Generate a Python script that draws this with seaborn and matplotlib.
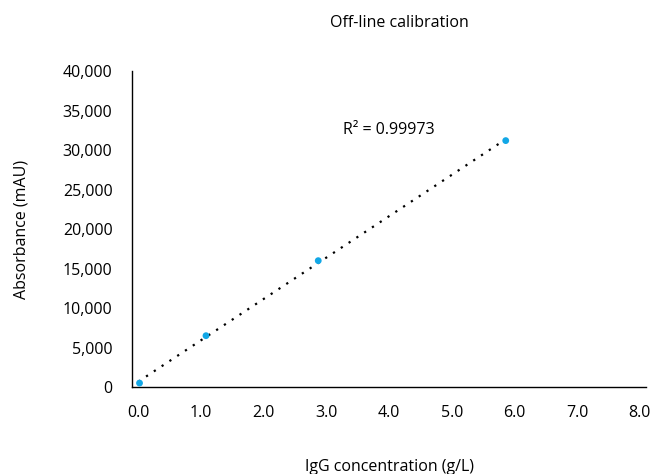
import numpy as np
import pandas as pd
import matplotlib
matplotlib.use("Agg")
import matplotlib.pyplot as plt
import seaborn as sns
from matplotlib.ticker import FuncFormatter

conc = [0.02, 1.08, 2.87, 5.86]
absorb = [500, 6500, 16000, 31200]
x_ticks = [0, 1, 2, 3, 4, 5, 6, 7, 8]
y_ticks = [0, 5000, 10000, 15000, 20000, 25000, 30000, 35000, 40000]
r2_text = "R² = 0.99973"

sns.set_theme(style="white")
plt.rcParams['font.family'] = ['Open Sans', 'DejaVu Sans']

df = pd.DataFrame({"conc": conc, "abs": absorb})

fig = plt.figure(figsize=(6.61, 4.74), dpi=100)
ax = fig.add_axes([0.1997, 0.1835, 0.7779, 0.6665])

slope, intercept = np.polyfit(df["conc"], df["abs"], 1)
xs = np.array([0.0, max(conc)])
ax.plot(xs, slope * xs + intercept, color="black", linestyle=(0, (1, 3.2)), linewidth=1.6, zorder=2)

sns.scatterplot(data=df, x="conc", y="abs", ax=ax, color="#12A7E6", s=24, edgecolor="none", zorder=3)

FS = 11.5
ax.set_xlim(-0.1, 8.1)
ax.set_ylim(0, 40000)
ax.set_xticks(x_ticks)
ax.set_yticks(y_ticks)
ax.xaxis.set_major_formatter(FuncFormatter(lambda v, p: f"{v:.1f}"))
ax.yaxis.set_major_formatter(FuncFormatter(lambda v, p: f"{int(v):,}"))
ax.tick_params(axis="both", length=0, labelsize=FS, colors="black")
ax.tick_params(axis="x", pad=13)
ax.tick_params(axis="y", pad=14)

for s in ["top", "right"]:
    ax.spines[s].set_visible(False)
for s in ["left", "bottom"]:
    ax.spines[s].set_color("black")
    ax.spines[s].set_linewidth(1.0)

ax.set_xlabel("IgG concentration (g/L)", fontsize=FS, labelpad=27, color="black")
ax.set_ylabel("Absorbance (mAU)", fontsize=FS, labelpad=24, color="black")
ax.set_title("Off-line calibration", fontsize=FS, pad=32, color="black", x=0.52)

ax.text(3.27, 32500, r2_text, fontsize=FS, va="center", ha="left", color="black")

fig.savefig("out.png", dpi=100)
